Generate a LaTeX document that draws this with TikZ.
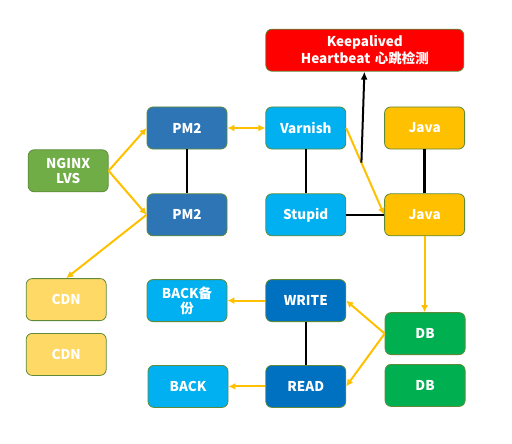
\documentclass[tikz,border=0pt]{standalone}
\usepackage{fontspec}
\setmainfont{Noto Sans CJK SC}
\usepackage{xcolor}
\usepackage{tikz}
\usetikzlibrary{arrows.meta, positioning}
\definecolor{nginxgreen}{HTML}{70AD47}
\definecolor{pmblue}{HTML}{2E75B6}
\definecolor{skyblue}{HTML}{00B0F0}
\definecolor{javagold}{HTML}{FFC000}
\definecolor{cdnyellow}{HTML}{FFD966}
\definecolor{rwblue}{HTML}{0070C0}
\definecolor{dbgreen}{HTML}{00B050}
\definecolor{edgegreen}{HTML}{5E8A3A}
\tikzstyle{block} = [rectangle, rounded corners=6pt, minimum width=80pt, minimum height=42pt, text centered, text width=76pt, align=center, draw=edgegreen, line width=0.8pt, text=white, font=\bfseries\fontsize{13.5}{15}\selectfont, inner sep=1pt]
\tikzstyle{nginx} = [block, fill=nginxgreen]
\tikzstyle{pm} = [block, fill=pmblue]
\tikzstyle{sky} = [block, fill=skyblue]
\tikzstyle{java} = [block, fill=javagold]
\tikzstyle{cdn} = [block, fill=cdnyellow]
\tikzstyle{rw} = [block, fill=rwblue]
\tikzstyle{db} = [block, fill=dbgreen]
\tikzstyle{alarm} = [block, fill=red, minimum width=198pt, minimum height=42pt, text width=190pt, inner sep=0pt, font=\bfseries\fontsize{13.5}{17}\selectfont]
\tikzstyle{arrow} = [line width=2pt, draw=javagold, -{Latex[length=7pt, width=7pt]}]
\tikzstyle{twoway} = [line width=2pt, draw=javagold, {Latex[length=7pt, width=7pt]}-{Latex[length=7pt, width=7pt]}]
\tikzstyle{link} = [line width=2.4pt, draw=black]
\tikzstyle{beat} = [line width=2pt, draw=black, -{Latex[length=8pt, width=7pt]}]

\begin{document}
\begin{tikzpicture}[x=1pt, y=-1pt, node distance=44pt and 38pt]
            \useasboundingbox (0,0) rectangle (512,444);
            % Nodes
            \node [pm] (pm_top) at (187,128) {PM2};
            \node [sky, right=of pm_top] (varnish) {Varnish};
            \node [java, right=of varnish] (java_top) {Java};
            \node [pm, below=of pm_top] (pm_bottom) {PM2};
            \node [sky, below=of varnish] (stupid) {Stupid};
            \node [java, below=of java_top] (java_bottom) {Java};
            \node [nginx, below left=0pt and 38pt of pm_top.south west, anchor=north east] (nginx) {NGINX\\LVS};
            \node [alarm, above right=35pt and 0pt of varnish.north west, anchor=south west] (keepalived) {Keepalived\\Heartbeat 心跳检测};
            \node [cdn, below=86pt of nginx.south west, anchor=north west, xshift=-2pt] (cdn_a) {CDN};
            \node [cdn, below=12pt of cdn_a] (cdn_b) {CDN};
            \node [sky, below=43pt of pm_bottom] (backup) {BACK备\\份};
            \node [rw, below=43pt of stupid] (write) {WRITE};
            \node [rw, below=43pt of write] (read) {READ};
            \node [sky, below=43pt of backup, xshift=1pt] (back) {BACK};
            \node [db, below=76pt of java_bottom, xshift=0.5pt] (db_a) {DB};
            \node [db, below=9pt of db_a] (db_b) {DB};

            % Arrows
            \draw [arrow] (nginx.east) -- (pm_top.west);
            \draw [arrow] (nginx.east) -- (pm_bottom.west);
            \draw [arrow] (pm_bottom.west) -- (cdn_a.north);
            \draw [twoway] (pm_top.east) -- (varnish.west);
            \draw [arrow] (varnish.east) -- (java_bottom.west) coordinate[pos=0.4] (beat_point);
            \draw [beat] (beat_point) -- ([xshift=3pt]beat_point |- keepalived.south);
            \draw [arrow] (java_bottom.south) -- (db_a.north -| java_bottom.south);
            \draw [arrow] (db_a.west) -- (write.east);
            \draw [arrow] (db_a.west) -- (read.east);
            \draw [arrow] (write.west) -- (backup.east);
            \draw [arrow] (read.west) -- (back.east);
            \draw [link] (pm_top) -- (pm_bottom);
            \draw [link] (varnish) -- (stupid);
            \draw [link] (java_top) -- (java_bottom);
            \draw [link] (stupid) -- (java_bottom);
            \draw [link] (write) -- (read);
        \end{tikzpicture}
\end{document}
